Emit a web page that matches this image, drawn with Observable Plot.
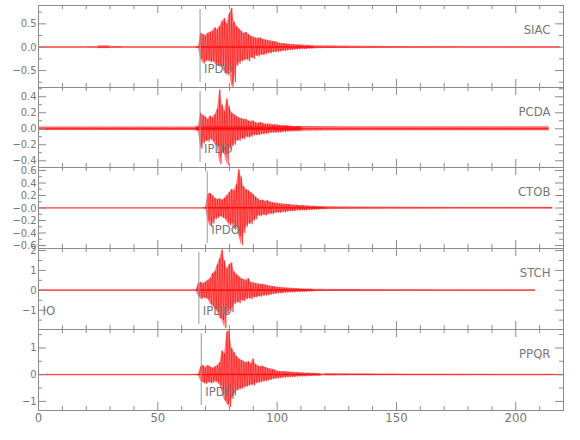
<!DOCTYPE html>
<html><head><meta charset="utf-8">
<script src="https://cdn.jsdelivr.net/npm/d3@7"></script>
<script src="https://cdn.jsdelivr.net/npm/@observablehq/plot@0.6"></script>
<style>
body{margin:0;background:#fff;}
#chart svg{display:block;overflow:visible;}
#chart text{font-stretch:condensed;}
</style></head><body><div id="chart"></div>
<script>
// ---- data ----
const stations = ["SIAC","PCDA","CTOB","STCH","PPQR"];
const recordEnd = [218.6, 214, 215.5, 208.3, 220];
const pickTime = [67.7, 67.7, 70.7, 67.2, 68.2];
const pickLabel = "IPDO";
const originPick = {station: "STCH", time: 0, label: "IO"};
const yDomains = [[-0.863,0.893],[-0.484,0.516],[-0.648,0.648],[-1.97,2.1],[-1.34,1.69]];
const yMajor = [[-0.5,0,0.5],[-0.4,-0.2,0,0.2,0.4],[-0.6,-0.4,-0.2,0,0.2,0.4,0.6],[-1,0,1,2],[-1,0,1]];
const yMinor = [[-0.75,-0.25,0.25,0.75],[-0.3,-0.1,0.1,0.3,0.5],[-0.5,-0.3,-0.1,0.1,0.3,0.5],[-1.5,-0.5,0.5,1.5],[-0.5,0.5,1.5]];
const yLabels = [["−0.5","0.0","0.5"],["−0.4","−0.2","0.0","0.2","0.4"],["−0.6","−0.4","−0.2","−0.0","0.2","0.4","0.6"],["−1","0","1","2"],["−1","0","1"]];
const xMajor = [0,50,100,150,200];
const xMinor = [10,20,30,40,60,70,80,90,110,120,130,140,160,170,180,190,210];

// background noise amplitude, 5-s bins from t=0
const noiseSIAC = [0.008,0.008,0.008,0.008,0.01,0.03,0.015,0.008,0.008,0.008,0.008,0.008,0.008,0.008,
  0.01,0.01,0.01,0.01,0.01,0.01,0.01,0.01,0.01,
  0.03,0.028,0.025,0.022,0.02,0.018,0.016,0.015,0.014,0.013,0.012,0.012,0.011,0.011,0.01,0.01,0.01,0.01,0.01,0.01,0.01];
const noisePCDA = [0.022,0.022,0.022,0.022,0.022,0.022,0.022,0.022,0.022,0.022,0.022,0.022,0.022,0.022,
  0.025,0.025,0.025,0.025,0.025,0.025,0.025,0.025,
  0.03,0.028,0.027,0.026,0.025,0.025,0.025,0.025,0.025,0.025,0.025,0.025,0.025,0.025,0.025,0.025,0.025,0.025,0.025,0.025,0.025];
const noiseCTOB = [0.004,0.004,0.004,0.004,0.004,0.004,0.004,0.004,0.004,0.004,0.004,0.004,0.004,0.004,
  0.01,0.01,0.01,0.01,0.01,0.01,0.01,0.01,0.01,0.01,
  0.02,0.018,0.016,0.015,0.014,0.013,0.012,0.012,0.011,0.011,0.01,0.01,0.01,0.01,0.01,0.01,0.01,0.01,0.01,0.01];
const noiseSTCH = [0.02,0.02,0.02,0.02,0.02,0.02,0.02,0.02,0.02,0.02,0.02,0.02,0.02,0.02,
  0.03,0.03,0.03,0.03,0.03,0.03,0.03,0.03,0.03,
  0.05,0.045,0.04,0.04,0.035,0.035,0.03,0.03,0.03,0.03,0.025,0.025,0.025,0.025,0.025,0.025,0.025,0.025,0.025];
const noisePPQR = [0.01,0.01,0.01,0.01,0.01,0.01,0.01,0.01,0.01,0.01,0.01,0.01,0.01,0.01,
  0.02,0.02,0.02,0.02,0.02,0.02,0.02,0.02,0.02,0.02,
  0.04,0.035,0.03,0.03,0.025,0.025,0.02,0.02,0.02,0.02,0.018,0.018,0.016,0.016,0.015,0.015,0.015,0.015,0.015,0.015];

// event window: per-second maximum / minimum of the trace
const evStart = [66, 66, 69, 66, 66];
const upSIAC = [0.01,0.01,0.30,0.28,0.25,0.30,0.32,0.35,0.42,0.38,0.45,0.55,0.62,0.50,0.72,0.84,0.55,0.45,0.40,0.35,0.30,0.32,0.28,0.24,
  0.22,0.20,0.19,0.20,0.17,0.16,0.15,0.14,0.13,0.12,0.11,0.09,0.08,0.08,0.07,0.07,0.06,0.06,0.05,0.05,0.05,0.04,0.04,0.04,0.035,0.03];
const loSIAC = [-0.01,-0.01,-0.25,-0.35,-0.30,-0.28,-0.32,-0.30,-0.35,-0.40,-0.42,-0.40,-0.55,-0.60,-0.50,-0.85,-0.75,-0.40,-0.35,-0.30,-0.28,-0.25,-0.30,-0.22,
  -0.25,-0.18,-0.20,-0.16,-0.17,-0.15,-0.13,-0.13,-0.11,-0.11,-0.10,-0.09,-0.08,-0.08,-0.07,-0.06,-0.06,-0.05,-0.05,-0.05,-0.04,-0.04,-0.04,-0.035,-0.03,-0.03];
const upPCDA = [0.025,0.03,0.20,0.17,0.15,0.12,0.16,0.14,0.18,0.25,0.49,0.30,0.22,0.38,0.28,0.20,0.18,0.16,0.14,0.13,0.12,0.12,0.10,0.09,0.10,
  0.08,0.07,0.08,0.07,0.06,0.06,0.06,0.05,0.05,0.05,0.045,0.04,0.04,0.04,0.035,0.035,0.03,0.03,0.03,0.03];
const loPCDA = [-0.025,-0.03,-0.25,-0.18,-0.15,-0.16,-0.13,-0.15,-0.20,-0.22,-0.44,-0.30,-0.32,-0.45,-0.25,-0.22,-0.20,-0.15,-0.15,-0.12,-0.13,-0.10,-0.11,-0.10,-0.08,
  -0.08,-0.08,-0.07,-0.07,-0.06,-0.06,-0.05,-0.05,-0.05,-0.045,-0.045,-0.04,-0.04,-0.035,-0.035,-0.03,-0.03,-0.03,-0.03,-0.025];
const upCTOB = [0.005,0.005,0.22,0.24,0.20,0.16,0.14,0.15,0.13,0.16,0.20,0.25,0.30,0.28,0.38,0.62,0.50,0.35,0.30,0.28,0.25,0.22,0.18,0.15,0.12,0.13,0.11,0.12,0.10,0.09,0.08,
  0.08,0.07,0.07,0.06,0.06,0.06,0.05,0.05,0.05,0.04,0.04,0.04,0.035,0.035,0.03,0.03,0.03,0.025,0.025,0.02,0.02];
const loCTOB = [-0.005,-0.005,-0.20,-0.30,-0.25,-0.18,-0.16,-0.13,-0.15,-0.17,-0.22,-0.28,-0.24,-0.35,-0.30,-0.45,-0.59,-0.40,-0.30,-0.25,-0.26,-0.20,-0.18,-0.12,-0.13,-0.11,-0.12,-0.10,-0.09,-0.10,-0.08,
  -0.07,-0.08,-0.06,-0.07,-0.06,-0.05,-0.05,-0.05,-0.04,-0.04,-0.04,-0.035,-0.04,-0.03,-0.03,-0.03,-0.025,-0.025,-0.02,-0.02,-0.02];
const upSTCH = [0.02,0.35,0.40,0.35,0.42,0.50,0.60,0.85,0.95,1.30,1.60,2.05,1.50,1.10,1.30,1.39,0.95,0.80,0.70,0.60,0.55,0.50,0.60,0.40,0.38,0.35,0.33,0.30,0.30,0.28,0.25,0.22,0.20,0.18,
  0.16,0.15,0.14,0.13,0.12,0.11,0.10,0.10,0.09,0.08,0.08,0.07,0.07,0.06,0.06,0.05];
const loSTCH = [-0.02,-0.30,-0.45,-0.38,-0.40,-0.45,-0.70,-0.80,-0.95,-1.10,-1.40,-1.50,-1.90,-1.20,-0.90,-1.10,-0.70,-0.60,-0.65,-0.50,-0.55,-0.45,-0.40,-0.45,-0.35,-0.36,-0.30,-0.32,-0.28,-0.26,-0.25,-0.22,-0.20,-0.18,
  -0.16,-0.15,-0.14,-0.13,-0.12,-0.11,-0.10,-0.10,-0.09,-0.08,-0.08,-0.07,-0.07,-0.06,-0.06,-0.05];
const upPPQR = [0.01,0.01,0.30,0.35,0.28,0.35,0.30,0.25,0.30,0.35,0.45,0.90,0.80,1.60,1.66,1.00,0.85,0.70,0.60,0.55,0.50,0.45,0.50,0.42,0.60,0.40,0.33,0.30,0.32,0.28,0.25,0.22,0.20,0.18,
  0.14,0.13,0.12,0.12,0.11,0.10,0.10,0.09,0.08,0.08,0.07,0.07,0.06,0.06,0.05,0.05,0.05,0.04,0.04];
const loPPQR = [-0.01,-0.01,-0.25,-0.30,-0.35,-0.28,-0.32,-0.30,-0.25,-0.30,-0.40,-0.70,-0.96,-1.10,-1.21,-0.90,-0.78,-0.60,-0.55,-0.52,-0.48,-0.45,-0.42,-0.38,-0.40,-0.32,-0.30,-0.28,-0.26,-0.24,-0.22,-0.20,-0.17,-0.15,
  -0.14,-0.12,-0.12,-0.11,-0.10,-0.10,-0.09,-0.09,-0.08,-0.07,-0.07,-0.06,-0.06,-0.05,-0.05,-0.05,-0.04,-0.04,-0.04];

const noise = [noiseSIAC, noisePCDA, noiseCTOB, noiseSTCH, noisePPQR];
const evUp = [upSIAC, upPCDA, upCTOB, upSTCH, upPPQR];
const evLo = [loSIAC, loPCDA, loCTOB, loSTCH, loPPQR];

// ---- layout / style ----
const W = 580, mL = 38, mR = 17;
const panelH = [82, 80, 81, 81, 81];
const red = "#ff0000", grey = "#8c8c8c", textGrey = "#777", pickGrey = "#999";
const font = "'DejaVu Sans Condensed','Liberation Sans Narrow','DejaVu Sans',sans-serif";
const stationWidth = [18, 22, 22, 22, 23];

const chart = document.getElementById("chart");
stations.forEach((name, p) => {
  const first = p === 0, last = p === stations.length - 1;
  const mT = first ? 5 : 0, mB = last ? 30 : 0;
  const H = panelH[p];
  const fw = W - mL - mR;
  const end = recordEnd[p];
  const start = evStart[p];
  const ev = evUp[p].map((u, k) => ({t: start + k, u, l: evLo[p][k]}));
  const zig = ev.flatMap(d => [{t: d.t, v: d.u}, {t: d.t + 0.5, v: d.l}]);
  const bands = noise[p].map((a, k) => ({x1: k * 5, x2: Math.min(k * 5 + 5, end), a})).filter(d => d.x1 < end);
  const marks = [
    Plot.rect(bands, {x1: "x1", x2: "x2", y1: d => -d.a, y2: d => d.a, fill: red, fillOpacity: 0.6}),
    Plot.ruleY([0], {x1: 0, x2: end, stroke: red, strokeWidth: 0.8}),
    Plot.areaY(ev, {x: "t", y1: "l", y2: "u", fill: red, fillOpacity: 0.5}),
    Plot.line(zig, {x: "t", y: "v", stroke: red, strokeWidth: 0.6, strokeOpacity: 0.9}),
    Plot.frame({stroke: grey}),
    Plot.tickY(yMajor[p], {y: d => d, stroke: grey, insetRight: fw - 8}),
    Plot.tickY(yMajor[p], {y: d => d, stroke: grey, insetLeft: fw - 8}),
    Plot.tickY(yMinor[p], {y: d => d, stroke: grey, insetRight: fw - 4}),
    Plot.tickY(yMinor[p], {y: d => d, stroke: grey, insetLeft: fw - 4}),
    Plot.tickX(xMajor, {x: d => d, stroke: grey, insetBottom: H - 8}),
    Plot.tickX(xMajor, {x: d => d, stroke: grey, insetTop: H - 8}),
    Plot.tickX(xMinor, {x: d => d, stroke: grey, insetBottom: H - 4}),
    Plot.tickX(xMinor, {x: d => d, stroke: grey, insetTop: H - 4}),
    Plot.text(yMajor[p], {y: d => d, text: (d, k) => yLabels[p][k], frameAnchor: "left", textAnchor: "end", dx: -2, fill: textGrey, fontSize: 11}),
    Plot.text([name], {text: d => d, frameAnchor: "top-right", textAnchor: "end", dx: -13, dy: 19.5, fill: textGrey, fontSize: 13, ariaLabel: "station"}),
    Plot.ruleX([pickTime[p]], {x: d => d, stroke: pickGrey, insetTop: 4, insetBottom: 5}),
    Plot.text([pickTime[p]], {x: d => d, text: () => pickLabel, frameAnchor: "bottom", textAnchor: "start", dx: 4, dy: -15, fill: textGrey, fontSize: 13, ariaLabel: "pick"})
  ];
  if (originPick.station === name) {
    marks.push(Plot.text([originPick.time], {x: d => d, text: () => originPick.label, frameAnchor: "bottom", textAnchor: "start", dx: 4, dy: -15, fill: textGrey, fontSize: 13, ariaLabel: "origin"}));
  }
  if (last) {
    marks.push(Plot.text(xMajor, {x: d => d, text: d => String(d), frameAnchor: "bottom", lineAnchor: "top", dy: 2, fill: textGrey, fontSize: 13}));
  }
  const svg = Plot.plot({
    width: W, height: H + mT + mB,
    marginLeft: mL, marginRight: mR, marginTop: mT, marginBottom: mB,
    style: {fontFamily: font, background: "transparent", overflow: "visible"},
    x: {domain: [0, 220], axis: null},
    y: {domain: yDomains[p], axis: null},
    marks
  });
  svg.querySelectorAll('g[aria-label="station"] text').forEach(t => { t.setAttribute("textLength", stationWidth[p]); t.setAttribute("lengthAdjust", "spacingAndGlyphs"); });
  svg.querySelectorAll('g[aria-label="pick"] text').forEach(t => { t.setAttribute("textLength", 20); t.setAttribute("lengthAdjust", "spacingAndGlyphs"); });
  svg.querySelectorAll('g[aria-label="origin"] text').forEach(t => { t.setAttribute("textLength", 6); t.setAttribute("lengthAdjust", "spacingAndGlyphs"); });
  chart.appendChild(svg);
});
</script>
</body></html>
